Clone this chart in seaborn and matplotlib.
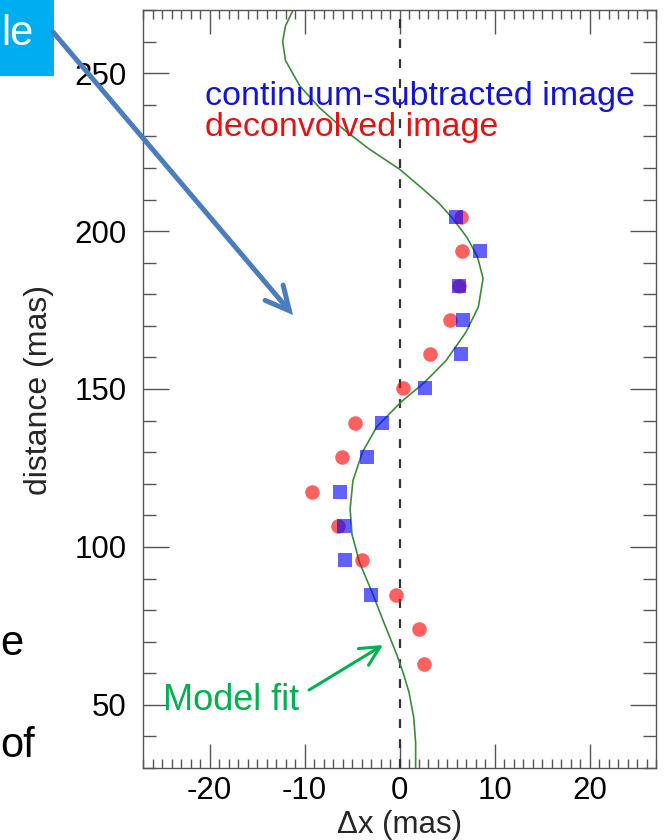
import matplotlib
matplotlib.use("Agg")
import matplotlib.pyplot as plt
import seaborn as sns
import pandas as pd
from matplotlib.ticker import MultipleLocator
from matplotlib.patches import Rectangle, FancyArrowPatch, ArrowStyle

sns.set_theme(style="white")
plt.rcParams['font.family'] = ['Liberation Sans', 'DejaVu Sans']

# ---------------- data ----------------
cont_distance = [204.5, 193.8, 182.7, 171.9, 161.0, 150.2, 139.3, 128.4, 117.4, 106.7, 95.7, 84.9]
cont_dx = [5.9, 8.5, 6.3, 6.7, 6.5, 2.7, -1.8, -3.4, -6.3, -5.8, -5.7, -3.0]

deconv_distance = [204.5, 193.8, 182.7, 171.9, 161.0, 150.2, 139.3, 128.4, 117.4, 106.7,
                   95.7, 84.9, 74.0, 63.0]
deconv_dx = [6.5, 6.6, 6.3, 5.3, 3.2, 0.4, -4.7, -6.1, -9.2, -6.5, -3.9, -0.4, 2.1, 2.6]

model_distance = [30, 38, 46, 54, 60, 66, 72, 78, 85, 95, 104, 112, 121, 130, 138, 146,
                  152, 159, 168, 176, 185, 192, 198, 204, 209, 214, 219.6, 226, 232,
                  239, 246, 254, 260, 265, 270]
model_dx = [1.7, 1.7, 1.5, 1.0, 0.4, -0.3, -1.1, -1.9, -2.8, -4.2, -5.0, -5.2, -4.9, -3.9,
            -2.4, 0.2, 2.6, 4.9, 7.0, 8.3, 8.8, 8.2, 7.1, 5.6, 4.1, 2.2, 0.0, -3.2, -5.8,
            -8.4, -10.5, -12.0, -12.3, -12.0, -11.2]

x_ticks = [-20, -10, 0, 10, 20]
y_ticks = [50, 100, 150, 200, 250]

cont_df = pd.DataFrame({"dx": cont_dx, "distance": cont_distance})
deconv_df = pd.DataFrame({"dx": deconv_dx, "distance": deconv_distance})
model_df = pd.DataFrame({"dx": model_dx, "distance": model_distance})

W, H = 665, 840
fig = plt.figure(figsize=(W / 100, H / 100), dpi=100)
ax = fig.add_axes([143 / W, 1 - 768 / H, (656 - 143) / W, (768 - 10) / H])

# zero line
ax.axvline(0, color="#333333", lw=1.6, ls=(0, (4, 5)), zorder=1)

# model fit curve
sns.lineplot(data=model_df, x="dx", y="distance", sort=False, estimator=None,
             color="#3d8a3d", lw=1.2, ax=ax, zorder=2)

# data points
sns.scatterplot(data=deconv_df, x="dx", y="distance", marker="o", s=110,
                color="red", alpha=0.62, linewidth=0, ax=ax, zorder=3)
sns.scatterplot(data=cont_df, x="dx", y="distance", marker="s", s=115,
                color="blue", alpha=0.62, linewidth=0, ax=ax, zorder=4)

ax.set_xlim(-27, 27)
ax.set_ylim(30, 270)
ax.set_xticks(x_ticks)
ax.set_yticks(y_ticks)
ax.set_xticklabels([str(t) for t in x_ticks])
ax.set_yticklabels([str(t) for t in y_ticks])
ax.xaxis.set_minor_locator(MultipleLocator(1))
ax.yaxis.set_minor_locator(MultipleLocator(10))

for s in ax.spines.values():
    s.set_color("#555555")
    s.set_linewidth(1.0)

ax.tick_params(axis="both", which="both", direction="in", top=True, right=True,
               bottom=True, left=True, color="#555555", width=1.0,
               labelsize=22.5, labelcolor="black")
ax.tick_params(axis="x", which="major", length=17, pad=6)
ax.tick_params(axis="x", which="minor", length=6.5)
ax.tick_params(axis="y", which="major", length=18.5, pad=12)
ax.tick_params(axis="y", which="minor", length=9.5)

ax.set_xlabel("Δx (mas)", fontsize=22.5)
ax.set_ylabel("distance (mas)", fontsize=23)
ax.xaxis.set_label_coords((400 - 143) / 513, (768 - 810) / 758)
ax.yaxis.set_label_coords((54 - 143) / 513, (768 - 390) / 758)

# legend-like text
fig.text(205 / W, 1 - 105 / H, "continuum-subtracted image", color="#1414d2",
         fontsize=24.5, ha="left", va="baseline")
fig.text(205 / W, 1 - 136 / H, "deconvolved image", color="#e01414",
         fontsize=24.5, ha="left", va="baseline")

# slide overlay: blue box with clipped text
box = Rectangle((0, 1 - 76 / H), 54 / W, 76 / H, transform=fig.transFigure,
                facecolor="#00AEEF", edgecolor="none", zorder=5)
fig.patches.append(box)
fig.text(34 / W, 1 - 45 / H, "le", color="white", fontsize=30, ha="right",
         va="baseline", zorder=6)

# blue slide arrow
arr = FancyArrowPatch((53 / W, 1 - 32 / H), (293 / W, 1 - 315 / H),
                      transform=fig.transFigure,
                      arrowstyle=ArrowStyle("->", head_length=1.7, head_width=0.85),
                      mutation_scale=10, color="#4a7dbd", lw=3.6, zorder=7,
                      shrinkA=0, shrinkB=0, capstyle="round", joinstyle="miter")
fig.patches.append(arr)

# model fit label + arrow
fig.text(163 / W, 1 - 710 / H, "Model fit", color="#00b050", fontsize=26,
         ha="left", va="baseline", zorder=6)
garr = FancyArrowPatch((309 / W, 1 - 690 / H), (383 / W, 1 - 645 / H),
                       transform=fig.transFigure,
                       arrowstyle=ArrowStyle("->", head_length=1.4, head_width=0.7),
                       mutation_scale=10, color="#00b050", lw=2.2, zorder=7,
                       shrinkA=0, shrinkB=0)
fig.patches.append(garr)

# slide body text fragments at left edge
fig.text(0 / W, 1 - 655 / H, "e", color="black", fontsize=30, ha="left", va="baseline")
fig.text(0 / W, 1 - 757 / H, "of", color="black", fontsize=30, ha="left", va="baseline")

fig.savefig("out.png", dpi=100)
